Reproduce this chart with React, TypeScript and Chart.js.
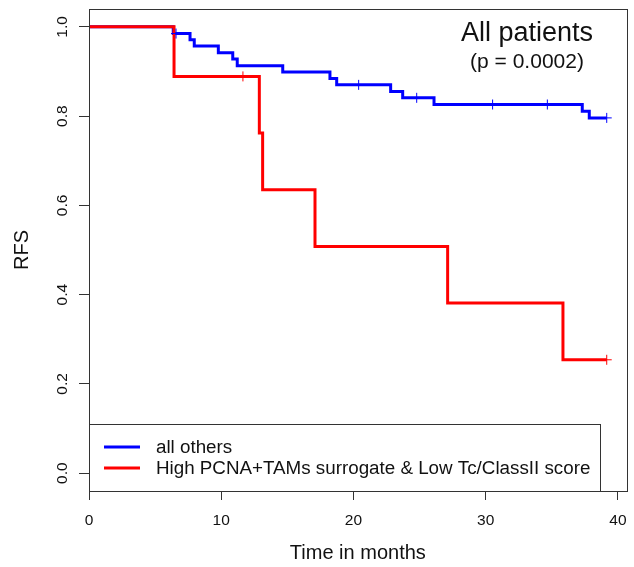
import React, { useEffect, useRef } from 'react';
import { Chart, registerables } from 'chart.js';

Chart.register(...registerables);

// ---- data ----
const seriesLabels = ['all others', 'High PCNA+TAMs surrogate & Low Tc/ClassII score'];
const seriesColors = ['#0000FF', '#FF0000'];

const othersTimes = [0, 6.37, 7.64, 7.96, 9.78, 10.87, 11.21, 14.65, 18.22, 18.73, 22.81, 23.72, 26.09, 37.3, 37.83, 39.15];
const othersSurv = [1, 0.985, 0.971, 0.957, 0.942, 0.928, 0.913, 0.899, 0.884, 0.87, 0.855, 0.841, 0.826, 0.811, 0.796, 0.796];
const othersCensorTimes = [6.58, 20.39, 24.78, 30.52, 34.66, 39.15];
const othersCensorSurv = [0.985, 0.87, 0.841, 0.826, 0.826, 0.796];

const highTimes = [0, 6.43, 12.88, 13.13, 17.09, 27.12, 35.84, 39.15];
const highSurv = [1, 0.889, 0.762, 0.635, 0.508, 0.381, 0.254, 0.254];
const highCensorTimes = [11.64, 39.15];
const highCensorSurv = [0.889, 0.254];

const xTicks = [0, 10, 20, 30, 40];
const yTicks = [0, 0.2, 0.4, 0.6, 0.8, 1.0];

const titleText = 'All patients';
const subtitleText = '(p = 0.0002)';
const xTitle = 'Time in months';
const yTitle = 'RFS';

const FONT = '"Liberation Sans", Arial, Helvetica, sans-serif';

const zip = (xs: number[], ys: number[]) => xs.map((x, i) => ({ x, y: ys[i] }));

const decorPlugin = {
  id: 'decor',
  afterDraw(chart: any) {
    const { ctx, chartArea } = chart;
    const { left, right, top, bottom } = chartArea;
    ctx.save();
    // legend box
    const lgTop = bottom - 67;
    const lgRight = right - 26.7;
    ctx.fillStyle = '#fff';
    ctx.fillRect(left, lgTop, lgRight - left, bottom - lgTop);
    ctx.strokeStyle = '#333';
    ctx.lineWidth = 1;
    ctx.strokeRect(Math.round(left) + 0.5, Math.round(lgTop) + 0.5, Math.round(lgRight - left), Math.round(bottom - lgTop));
    const rows = [lgTop + 23, lgTop + 44];
    ctx.font = `18.8px ${FONT}`;
    ctx.textBaseline = 'middle';
    ctx.textAlign = 'left';
    seriesLabels.forEach((lab, i) => {
      ctx.strokeStyle = seriesColors[i];
      ctx.lineWidth = 3;
      ctx.beginPath();
      ctx.moveTo(left + 15, rows[i]);
      ctx.lineTo(left + 51, rows[i]);
      ctx.stroke();
      ctx.fillStyle = '#111';
      ctx.fillText(lab, left + 67, rows[i] + 1);
    });
    // plot box
    ctx.strokeStyle = '#333';
    ctx.lineWidth = 1;
    ctx.strokeRect(Math.round(left) + 0.5, Math.round(top) + 0.5, Math.round(right - left), Math.round(bottom - top));
    // titles
    ctx.fillStyle = '#111';
    ctx.textAlign = 'center';
    ctx.textBaseline = 'alphabetic';
    ctx.font = `27px ${FONT}`;
    ctx.fillText(titleText, 527, 40.5);
    ctx.font = `21px ${FONT}`;
    ctx.fillText(subtitleText, 527, 67.5);
    ctx.restore();
  },
};

export default function App() {
  const ref = useRef<HTMLCanvasElement | null>(null);
  useEffect(() => {
    if (!ref.current) return;
    Chart.defaults.font.family = FONT;
    const chart = new Chart(ref.current, {
      type: 'line',
      data: {
        datasets: [
          {
            type: 'line',
            label: seriesLabels[1],
            data: zip(highTimes, highSurv),
            borderColor: seriesColors[1],
            borderWidth: 3,
            stepped: true,
            pointRadius: 0,
            fill: false,
            order: 1,
          },
          {
            type: 'line',
            label: seriesLabels[0],
            data: zip(othersTimes, othersSurv),
            borderColor: seriesColors[0],
            borderWidth: 3,
            stepped: true,
            pointRadius: 0,
            fill: false,
            order: 2,
          },
          {
            type: 'scatter',
            label: 'censor high',
            data: zip(highCensorTimes, highCensorSurv),
            borderColor: seriesColors[1],
            backgroundColor: seriesColors[1],
            pointStyle: 'cross',
            pointRadius: 5,
            pointBorderWidth: 1,
            showLine: false,
            order: 0,
          },
          {
            type: 'scatter',
            label: 'censor others',
            data: zip(othersCensorTimes, othersCensorSurv),
            borderColor: seriesColors[0],
            backgroundColor: seriesColors[0],
            pointStyle: 'cross',
            pointRadius: 5,
            pointBorderWidth: 1,
            showLine: false,
            order: 0,
          },
        ] as any,
      },
      options: {
        animation: false,
        responsive: false,
        layout: { padding: { left: 0, top: 9, right: 7.3, bottom: 0 } },
        plugins: { legend: { display: false }, tooltip: { enabled: false } },
        scales: {
          x: {
            type: 'linear',
            min: 0,
            max: 40.66,
            afterBuildTicks: (s: any) => { s.ticks = xTicks.map((v) => ({ value: v })); },
            afterFit: (s: any) => { s.height = 76; s.paddingLeft = 0; s.paddingRight = 0; },
            ticks: { autoSkip: false, maxRotation: 0, padding: 11, color: '#111', font: { size: 15.5 }, callback: (v: any) => String(v) },
            grid: { drawOnChartArea: false, drawTicks: true, tickLength: 9, color: '#333' },
            border: { display: true, color: '#333' },
            title: { display: true, text: xTitle, color: '#111', font: { size: 20 }, padding: { top: 0, bottom: 2 } },
          },
          y: {
            type: 'linear',
            min: -0.04,
            max: 1.04,
            afterBuildTicks: (s: any) => { s.ticks = yTicks.map((v) => ({ value: v })); },
            afterFit: (s: any) => { s.width = 89; s.paddingTop = 0; s.paddingBottom = 0; },
            ticks: { autoSkip: false, minRotation: 90, maxRotation: 90, crossAlign: 'center', padding: 6, color: '#111', font: { size: 15.5 }, callback: (v: any) => Number(v).toFixed(1) },
            grid: { drawOnChartArea: false, drawTicks: true, tickLength: 10, color: '#333' },
            border: { display: true, color: '#333' },
            title: { display: true, text: yTitle, color: '#111', font: { size: 20 }, padding: { top: 10, bottom: 0 } },
          },
        },
      } as any,
      plugins: [decorPlugin],
    });
    return () => chart.destroy();
  }, []);
  return (
    <div style={{ position: 'absolute', left: 0, top: 0, width: 634, height: 567, background: '#fff' }}>
      <canvas ref={ref} width={634} height={567} style={{ display: 'block' }} />
    </div>
  );
}
